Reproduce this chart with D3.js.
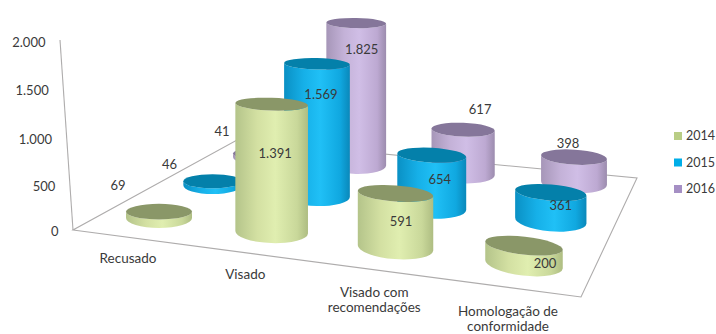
<!DOCTYPE html>
<html lang="pt">
<head>
<meta charset="utf-8">
<title>Processos por ano</title>
<script src="https://cdn.jsdelivr.net/npm/d3@7"></script>
<style>
  html, body { margin: 0; padding: 0; background: #fff; overflow: hidden; }
  text { font-family: Lato, "Open Sans", sans-serif; }
</style>
</head>
<body>
<svg id="chart" width="716" height="334"></svg>
<script>
// Chart data
const categories = ["Recusado", "Visado", "Visado com recomendações", "Homologação de conformidade"];
const years = ["2014", "2015", "2016"];
const values2014 = [69, 1391, 591, 200];
const values2015 = [46, 1569, 654, 361];
const values2016 = [41, 1825, 617, 398];
const yTicks = [0, 500, 1000, 1500, 2000];

// Styling per series: side gradient stops and lid colour
const sideStops = {
  "2014": ["#b4c48a", "#d3e0a2", "#e0eeb0", "#c9d89a", "#aebd82"],
  "2015": ["#0a90c4", "#16b0e8", "#20c0f6", "#10a8e0", "#0a88ba"],
  "2016": ["#a696b8", "#c4b2d8", "#d0bee6", "#bda9d2", "#9c8cae"]
};
const lidColours = { "2014": "#8a9768", "2015": "#0480aa", "2016": "#85769a" };
const legendColours = { "2014": "#b9cd85", "2015": "#00aee8", "2016": "#a58fc4" };

// Floor of the 3D box, and where the outer bars stand on it
const floor = { frontLeft: [73, 230], frontRight: [581, 297], backRight: [637, 178], backLeft: [237, 140] };
const axisTop = [60, 40];
const standFL = [159, 218], standFR = [524, 264], standBR = [574, 183], standBL = [259, 157];

// Depth-aware scales: category runs along the front edge, year runs into the chart
const uIndex = d3.scalePoint().domain(categories).range([0, 1]);
const vIndex = d3.scalePoint().domain(years).range([0, 1]);
const uStretch = d3.scalePow().exponent(1.07).domain([0, 1]).range([0, 1]);
const vStretch = d3.scalePow().exponent(0.9).domain([0, 1]).range([0, 1]);
const radiusEase = d3.scaleSqrt().domain([0, 1]).range([0, 1]);

const lerp = (a, b, t) => a + (b - a) * t;
const uPos = c => uStretch(uIndex(c));
const vPos = y => vStretch(vIndex(y));

function standPoint(u, v) {
  const fx = lerp(standFL[0], standFR[0], u), fy = lerp(standFL[1], standFR[1], u);
  const bx = lerp(standBL[0], standBR[0], u), by = lerp(standBL[1], standBR[1], u);
  return [lerp(fx, bx, v), lerp(fy, by, v)];
}
// Pixels per unit of value shrink towards the back and the right
const pixelsPerUnit = (u, v) => lerp(0.092, 0.0835 - 0.0185 * u, v);
const radiusX = (u, v) => {
  const t = radiusEase(u);
  return lerp(lerp(33, 39, t), lerp(26, 33, t), v);
};
const tiltDeg = (u, v) => lerp(0, 6.5, u) * (1 - 0.45 * v);
// Lids flatten as they rise towards eye level
const lidRatio = h => 0.24 - 0.0005 * h;

const yAxisY = d3.scaleLinear().domain(yTicks).range([231, 186, 139, 90, 42]);
const yAxisX = d3.scaleLinear().domain([0, 2000]).range([73, 60]);
const catLabelX = d3.scaleLinear().domain([0, 1]).range([128, 508]);
const catLabelY = d3.scaleLinear().domain([0, 1]).range([260, 313]);

const svg = d3.select("#chart");
const defs = svg.append("defs");
const gridColour = "#aeacac", textColour = "#3a3a3a";
const formatValue = d => d3.format(",")(d).replace(",", ".");

years.forEach(y => {
  const g = defs.append("linearGradient").attr("id", "side" + y)
    .attr("x1", 0).attr("x2", 1).attr("y1", 0).attr("y2", 0);
  g.selectAll("stop").data(sideStops[y]).join("stop")
    .attr("offset", (d, i) => [0, 0.3, 0.55, 0.85, 1][i])
    .attr("stop-color", d => d);
});

// Floor and vertical axis
svg.append("polygon")
  .attr("points", [floor.frontLeft, floor.frontRight, floor.backRight, floor.backLeft].join(" "))
  .attr("fill", "#fff").attr("stroke", gridColour).attr("stroke-width", 1.1);
svg.append("line")
  .attr("x1", floor.frontLeft[0]).attr("y1", floor.frontLeft[1])
  .attr("x2", axisTop[0]).attr("y2", axisTop[1])
  .attr("stroke", gridColour).attr("stroke-width", 1.1);

svg.append("g").selectAll("text").data(yTicks).join("text")
  .attr("x", d => yAxisX(d) - 14.5)
  .attr("y", d => yAxisY(d))
  .attr("dy", "0.35em")
  .attr("text-anchor", "end")
  .attr("font-size", 13)
  .attr("fill", textColour)
  .text(formatValue);

// Category labels, wrapped onto one or two lines
const catLines = {
  "Recusado": ["Recusado"],
  "Visado": ["Visado"],
  "Visado com recomendações": ["Visado com", "recomendações"],
  "Homologação de conformidade": ["Homologação de", "conformidade"]
};
const catG = svg.append("g");
categories.forEach(c => {
  const u = uPos(c);
  const t = catG.append("text")
    .attr("text-anchor", "middle")
    .attr("font-size", 13.5)
    .attr("fill", textColour);
  catLines[c].forEach((line, i) => {
    t.append("tspan")
      .attr("x", catLabelX(u))
      .attr("y", catLabelY(u) + 3 + i * 15)
      .text(line);
  });
});

// Cylinders, back row first so nearer ones cover them
const seriesValues = { "2014": values2014, "2015": values2015, "2016": values2016 };
const bars = [];
years.slice().reverse().forEach(y => {
  categories.forEach((c, i) => bars.push({ year: y, cat: c, catIndex: i, value: seriesValues[y][i] }));
});

const barG = svg.append("g");
bars.forEach(b => {
  const u = uPos(b.cat), v = vPos(b.year);
  const [bx, by] = standPoint(u, v);
  const h = b.value * pixelsPerUnit(u, v);
  const rx = radiusX(u, v), ry = rx * lidRatio(h), botRy = rx * 0.3;
  const deg = tiltDeg(u, v), rad = deg * Math.PI / 180;
  const ex = rx * Math.cos(rad), ey = rx * Math.sin(rad);
  const sidePath = `M${bx - ex},${by - h - ey}`
    + `L${bx - ex},${by - ey}`
    + `A${rx},${botRy} ${deg} 0 0 ${bx + ex},${by + ey}`
    + `L${bx + ex},${by - h + ey}`
    + `A${rx},${ry} ${deg} 0 1 ${bx - ex},${by - h - ey}Z`;
  barG.append("path").attr("d", sidePath).attr("fill", `url(#side${b.year})`);
  barG.append("ellipse")
    .attr("rx", rx).attr("ry", ry)
    .attr("transform", `translate(${bx},${by - h}) rotate(${deg})`)
    .attr("fill", lidColours[b.year]);
});

// Value labels are placed by hand around each bar's foot
const labelNudge2014 = [[-41, -33], [3.5, -79], [5.5, -26], [21, -1]];
const labelNudge2015 = [[-43, -21], [4, -102], [8, -29], [10, -15]];
const labelNudge2016 = [[-37, -26], [5.5, -116], [17, -64], [-6, -40]];
const nudges = { "2014": labelNudge2014, "2015": labelNudge2015, "2016": labelNudge2016 };

svg.append("g").selectAll("text").data(bars).join("text")
  .attr("x", d => standPoint(uPos(d.cat), vPos(d.year))[0] + nudges[d.year][d.catIndex][0])
  .attr("y", d => standPoint(uPos(d.cat), vPos(d.year))[1] + nudges[d.year][d.catIndex][1])
  .attr("dy", "0.35em")
  .attr("text-anchor", "middle")
  .attr("font-size", 13)
  .attr("fill", textColour)
  .text(d => formatValue(d.value));

// Legend
const legendY = d3.scalePoint().domain(years).range([136, 189]);
const legend = svg.append("g").selectAll("g").data(years).join("g")
  .attr("transform", d => `translate(674,${legendY(d)})`);
legend.append("rect")
  .attr("x", 0).attr("y", -4).attr("width", 8).attr("height", 8)
  .attr("fill", d => legendColours[d]);
legend.append("text")
  .attr("x", 12).attr("dy", "0.35em")
  .attr("font-size", 12.5).attr("fill", textColour)
  .text(d => d);
</script>
</body>
</html>
